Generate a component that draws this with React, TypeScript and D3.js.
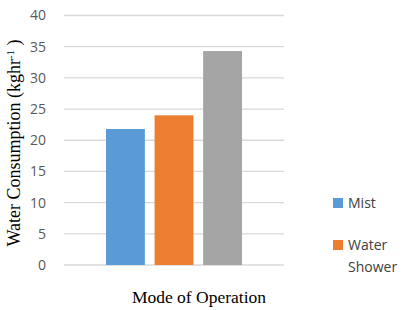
import React from 'react';
import * as d3 from 'd3';

const width = 407;
const height = 310;

const seriesNames = ['Mist', 'Water Shower', 'Combined'];
const seriesValues = [21.8, 24.0, 34.3];
const seriesColors = ['#5b9bd5', '#ed7d31', '#a5a5a5'];
const legendLabels = [['Mist'], ['Water', 'Shower']];
const yTicks = [0, 5, 10, 15, 20, 25, 30, 35, 40];

const plotLeft = 64;
const plotRight = 284;
const plotTop = 15.5;
const plotBottom = 265;

export default function App() {
  const y = d3.scaleLinear().domain([0, 40]).range([plotBottom, plotTop]);
  const x = d3
    .scaleBand<string>()
    .domain(seriesNames)
    .range([106, 242])
    .paddingInner(0.2)
    .paddingOuter(0);

  return (
    <svg
      width={width}
      height={height}
      style={{ position: 'absolute', left: 0, top: 0, background: '#fff' }}
    >
      {yTicks.map((t) => (
        <g key={t}>
          <line
            x1={plotLeft}
            x2={plotRight}
            y1={y(t)}
            y2={y(t)}
            stroke="#d9d9d9"
            strokeWidth={1.3}
          />
          <text
            x={46}
            y={y(t)}
            dy="0.35em"
            textAnchor="end"
            fontFamily="Open Sans"
            fontSize={14}
            fill="#595959"
          >
            {t}
          </text>
        </g>
      ))}

      {seriesNames.map((s, i) => (
        <rect
          key={s}
          x={x(s)}
          y={y(seriesValues[i])}
          width={x.bandwidth()}
          height={y(0) - y(seriesValues[i])}
          fill={seriesColors[i]}
        />
      ))}

      <text
        transform={`translate(20, 143) rotate(-90)`}
        textAnchor="middle"
        fontFamily="Liberation Serif"
        fontSize={18}
        fill="#000"
      >
        Water Consumption (kghr
        <tspan dy={-6} fontSize={11}>-1</tspan>
        <tspan dy={6}> )</tspan>
      </text>

      <text
        x={199}
        y={303}
        textAnchor="middle"
        fontFamily="Liberation Serif"
        fontSize={17.5}
        fill="#000"
      >
        Mode of Operation
      </text>

      {legendLabels.map((lines, i) => (
        <g key={i} transform={`translate(333, ${198 + i * 42})`}>
          <rect width={10} height={10} fill={seriesColors[i]} />
          {lines.map((l, j) => (
            <text
              key={j}
              x={15}
              y={5 + j * 22}
              dy="0.35em"
              fontFamily="Open Sans"
              fontSize={14}
              fill="#404040"
            >
              {l}
            </text>
          ))}
        </g>
      ))}
    </svg>
  );
}
